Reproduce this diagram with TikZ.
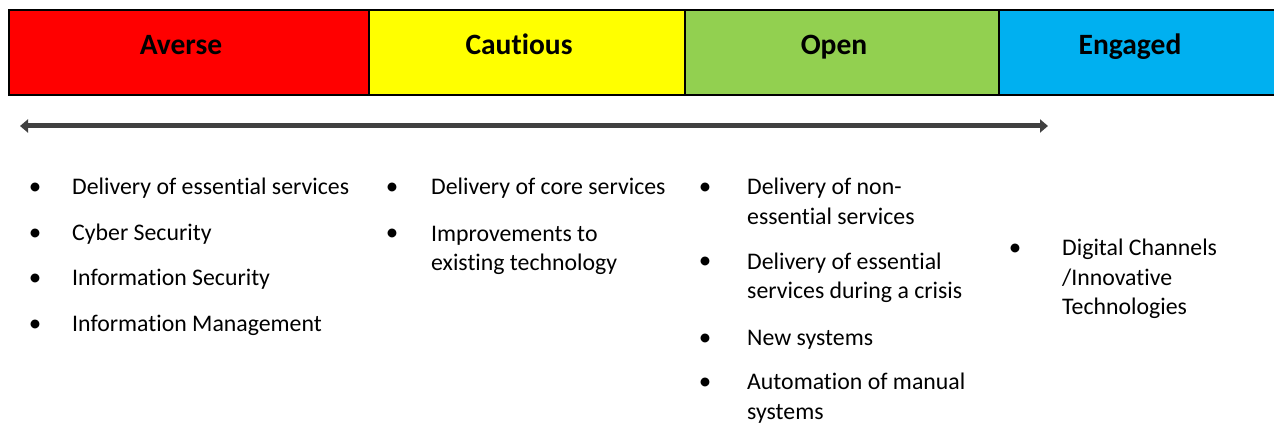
\documentclass[tikz,border=0pt]{standalone}
\usepackage{fontspec}
\setmainfont{Carlito}[RawFeature={-liga;-clig;-calt;-dlig;-rlig}]
\usetikzlibrary{arrows.meta}
\definecolor{cRed}{HTML}{FF0000}
\definecolor{cYellow}{HTML}{FFFF00}
\definecolor{cGreen}{HTML}{92D050}
\definecolor{cBlue}{HTML}{00B0F0}
\definecolor{cArrow}{HTML}{404040}
\tikzset{
  band/.style={draw=black, line width=2pt, minimum height=85pt, inner sep=0pt, outer sep=0pt},
  head/.style={font=\fontsize{29.5}{34}\selectfont\bfseries, inner sep=0pt, anchor=base},
  item/.style={font=\fontsize{23.8}{29.7}\selectfont, inner sep=0pt, anchor=base west, align=left},
  bul/.style={font=\fontsize{25}{29.7}\selectfont, inner sep=0pt, anchor=base},
}
\begin{document}
\begin{tikzpicture}[x=1pt,y=-1pt]
\useasboundingbox (0,0) rectangle (1274,435);
\begin{scope}
\clip (0,0) rectangle (1274,435);
\node[band, fill=cRed, minimum width=360pt] (averse) at (189,52.5) {};
\node[band, fill=cYellow, minimum width=316pt] (cautious) at (527,52.5) {};
\node[band, fill=cGreen, minimum width=314pt] (open) at (842,52.5) {};
\node[band, fill=cBlue, minimum width=300pt] (engaged) at (1149,52.5) {};
\end{scope}
\node[head] (tA) at (181,55) {Averse};
\node[head] (tC) at (519,55) {Cautious};
\node[head] (tO) at (834,55) {Open};
\node[head] (tE) at (1130,55) {Engaged};
\coordinate (aL) at (20,126);
\coordinate (aR) at (1048,126);
\draw[cArrow, line width=5pt, {Triangle[length=8pt,width=13pt]}-{Triangle[length=8pt,width=13pt]}] (aL) -- (aR);
% column 1
\node[bul] (b11) at (35,195) {•};
\node[item] (i11) at (72,195) {Delivery of essential services};
\node[bul] (b12) at (35,241) {•};
\node[item] (i12) at (72,241) {Cyber Security};
\node[bul] (b13) at (35,286) {•};
\node[item] (i13) at (72,286) {Information Security};
\node[bul] (b14) at (35,332) {•};
\node[item] (i14) at (72,332) {Information Management};
% column 2 (multi-line nodes: base = last line)
\node[bul] (b21) at (392,195) {•};
\node[item] (i21) at (431,195) {Delivery of core services};
\node[bul] (b22) at (392,241) {•};
\node[item] (i22) at (431,271) {Improvements to\\existing technology};
% column 3
\node[bul] (b31) at (705,195) {•};
\node[item] (i31) at (747,224.5) {Delivery of non-\\essential services};
\node[bul] (b32) at (705,269) {•};
\node[item] (i32) at (747,299) {Delivery of essential\\services during a crisis};
\node[bul] (b33) at (705,345) {•};
\node[item] (i33) at (747,345) {New systems};
\node[bul] (b34) at (705,389) {•};
\node[item] (i34) at (747,419) {Automation of manual\\systems};
% column 4
\node[bul] (b41) at (1015,256) {•};
\node[item] (i41) at (1062,315) {Digital Channels\\/Innovative\\Technologies};
\end{tikzpicture}
\end{document}
